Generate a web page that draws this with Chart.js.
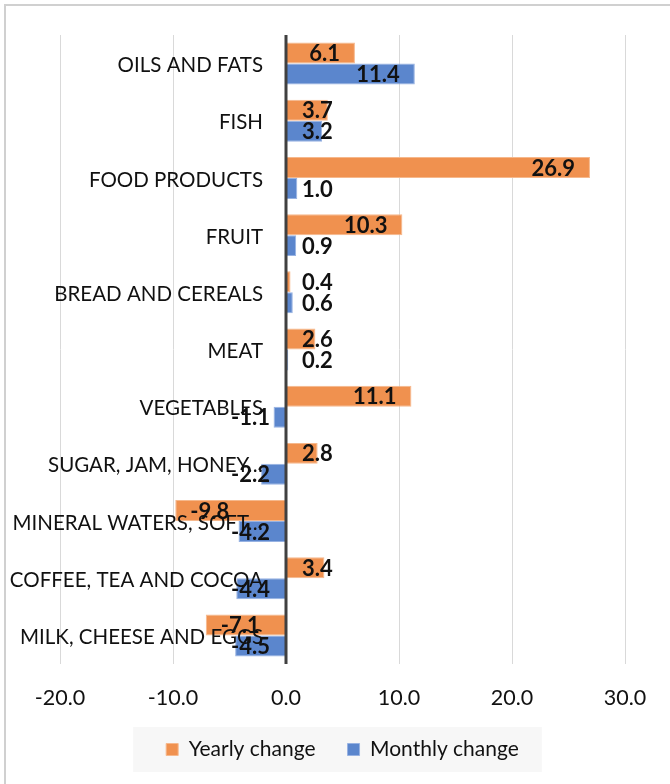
<!DOCTYPE html>
<html>
<head>
<meta charset="utf-8">
<script src="https://cdn.jsdelivr.net/npm/chart.js@4"></script>
<style>
  body { margin: 0; background: #fff; }
  canvas { display: block; }
</style>
</head>
<body>
<canvas id="barChart" width="670" height="784"></canvas>
<script>
// Datos del gráfico
const categorias = ['OILS AND FATS', 'FISH', 'FOOD PRODUCTS', 'FRUIT', 'BREAD AND CEREALS', 'MEAT',
    'VEGETABLES', 'SUGAR, JAM, HONEY…', 'MINERAL WATERS, SOFT…', 'COFFEE, TEA AND COCOA', 'MILK, CHEESE AND EGGS'];
const cambioAnual = [6.1, 3.7, 26.9, 10.3, 0.4, 2.6, 11.1, 2.8, -9.8, 3.4, -7.1];
const cambioMensual = [11.4, 3.2, 1.0, 0.9, 0.6, 0.2, -1.1, -2.2, -4.2, -4.4, -4.5];
const ejeMin = -20;
const ejeMax = 30;
const ejePaso = 10;

Chart.defaults.font.family = 'Lato, "Open Sans", sans-serif';

// Marco, fondo de la leyenda, eje cero y etiquetas
const decoracion = {
    id: 'decoracion',
    beforeDraw(chart) {
        const ctx = chart.ctx;
        ctx.save();
        ctx.strokeStyle = '#d0d0d0';
        ctx.lineWidth = 2;
        ctx.strokeRect(5, 5, 720, 820);
        const hb = chart.legend.legendHitBoxes;
        if (hb && hb.length) {
            const last = hb[hb.length - 1];
            ctx.fillStyle = '#f7f7f7';
            ctx.fillRect(hb[0].left - 33, hb[0].top - 12, last.left + last.width + 23 - (hb[0].left - 33), hb[0].height + 24);
        }
        ctx.restore();
    },
    afterDatasetsDraw(chart) {
        const ctx = chart.ctx;
        const xs = chart.scales.x;
        const ys = chart.scales.y;
        const area = chart.chartArea;
        const cero = xs.getPixelForValue(0);
        ctx.save();
        // eje cero
        ctx.strokeStyle = '#404040';
        ctx.lineWidth = 3;
        ctx.beginPath();
        ctx.moveTo(cero, area.top);
        ctx.lineTo(cero, area.bottom);
        ctx.stroke();

        // etiquetas de categoría junto al eje
        ctx.fillStyle = '#111';
        ctx.font = '20.5px Lato';
        ctx.textAlign = 'right';
        ctx.textBaseline = 'middle';
        chart.data.labels.forEach((l, j) => {
            ctx.fillText(l, cero - 23, ys.getPixelForValue(j) + 2);
        });

        // valores
        ctx.font = 'bold 22px Lato';
        chart.data.datasets.forEach((ds, i) => {
            chart.getDatasetMeta(i).data.forEach((bar, j) => {
                const v = ds.data[j];
                const txt = v.toFixed(1);
                const w = ctx.measureText(txt).width;
                const largo = Math.abs(bar.x - bar.base);
                let px;
                if (largo > w + 28) {
                    ctx.textAlign = v > 0 ? 'right' : 'left';
                    px = v > 0 ? bar.x - 15 : bar.x + 15;
                } else {
                    ctx.textAlign = v >= 0 ? 'left' : 'right';
                    px = v >= 0 ? cero + 16 : cero - 16;
                }
                ctx.fillText(txt, px, bar.y + 1);
            });
        });
        ctx.restore();
    }
};

const barCtx = document.getElementById('barChart').getContext('2d');
const barChart = new Chart(barCtx, {
    type: 'bar',
    data: {
        labels: categorias,
        datasets: [
            {
                label: 'Yearly change',
                data: cambioAnual,
                backgroundColor: '#F0914F',
                borderColor: '#F6B88C',
                borderWidth: 1
            },
            {
                label: 'Monthly change',
                data: cambioMensual,
                backgroundColor: '#5B86CD',
                borderColor: '#97B2E2',
                borderWidth: 1
            }
        ]
    },
    options: {
        indexAxis: 'y',
        responsive: false,
        animation: false,
        datasets: {
            bar: {
                categoryPercentage: 0.734,
                barPercentage: 1
            }
        },
        layout: {
            padding: { left: 60, right: 45, top: 35, bottom: 14 }
        },
        plugins: {
            legend: {
                position: 'bottom',
                labels: {
                    boxWidth: 12,
                    boxHeight: 12,
                    padding: 32,
                    color: '#111',
                    font: { size: 21 }
                }
            },
            tooltip: { enabled: false }
        },
        scales: {
            x: {
                min: ejeMin,
                max: ejeMax,
                ticks: {
                    stepSize: ejePaso,
                    padding: 21,
                    color: '#111',
                    font: { size: 21.5 },
                    callback: v => Number(v).toFixed(1)
                },
                grid: {
                    color: c => (c.tick && c.tick.value === 0) ? 'rgba(0,0,0,0)' : '#d9d9d9',
                    drawTicks: false
                },
                border: { display: false },
                afterFit: s => { s.height = 43; }
            },
            y: {
                display: false
            }
        }
    },
    plugins: [decoracion]
});
</script>
</body>
</html>
